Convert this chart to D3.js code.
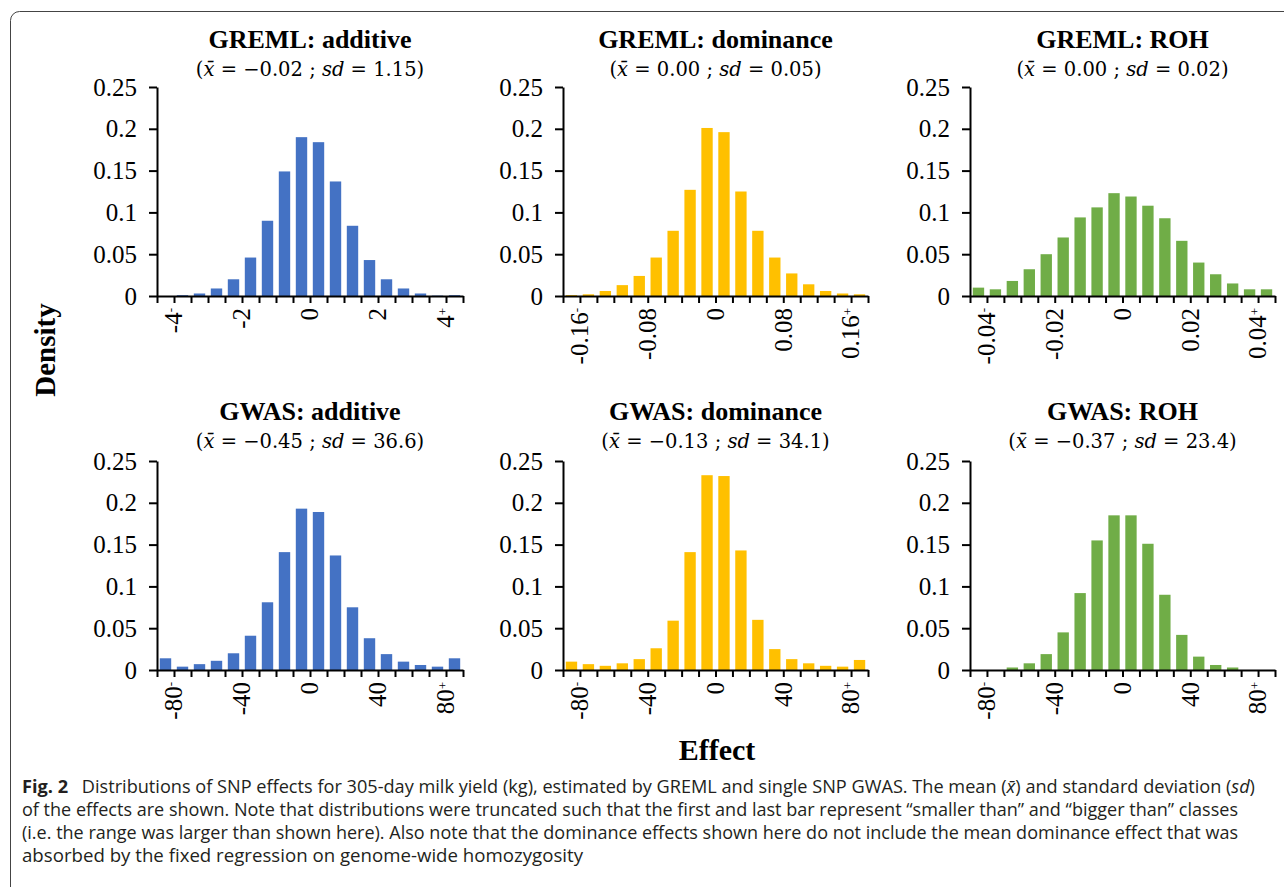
<!DOCTYPE html>
<html>
<head>
<meta charset="utf-8">
<script src="https://cdn.jsdelivr.net/npm/d3@7"></script>
<style>
  html, body { margin: 0; padding: 0; background: #fff; }
  svg { display: block; }
</style>
</head>
<body>
<svg id="chart" width="1284" height="887"></svg>
<script>
// ---------------- DATA ----------------
const panelTitles = ["GREML: additive", "GREML: dominance", "GREML: ROH",
                     "GWAS: additive", "GWAS: dominance", "GWAS: ROH"];
const panelMeans = ["\u22120.02", "0.00", "0.00", "\u22120.45", "\u22120.13", "\u22120.37"];
const panelSds = ["1.15", "0.05", "0.02", "36.6", "34.1", "23.4"];
const panelColors = ["#4472C4", "#FFC000", "#70AD47", "#4472C4", "#FFC000", "#70AD47"];

// bin layout: lower edge of first bin and bin width (18 bins each)
const binStart = [-4.5, -0.18, -0.045, -90, -90, -90];
const binWidth = [0.5, 0.02, 0.005, 10, 10, 10];

// x tick labels (first gets "-" superscript, last gets "+")
const xTickLabels = [
  [-4, -2, 0, 2, 4],
  [-0.16, -0.08, 0, 0.08, 0.16],
  [-0.04, -0.02, 0, 0.02, 0.04],
  [-80, -40, 0, 40, 80],
  [-80, -40, 0, 40, 80],
  [-80, -40, 0, 40, 80]
];
const yTicks = [0, 0.05, 0.1, 0.15, 0.2, 0.25];

const gremlAdditive  = [0.000, 0.001, 0.003, 0.009, 0.020, 0.046, 0.090, 0.149, 0.190, 0.184, 0.137, 0.084, 0.043, 0.020, 0.009, 0.003, 0.0005, 0.001];
const gremlDominance = [0.001, 0.002, 0.006, 0.013, 0.024, 0.046, 0.078, 0.127, 0.201, 0.196, 0.125, 0.078, 0.046, 0.027, 0.014, 0.006, 0.003, 0.002];
const gremlROH       = [0.010, 0.008, 0.018, 0.032, 0.050, 0.070, 0.094, 0.106, 0.123, 0.119, 0.108, 0.093, 0.066, 0.040, 0.026, 0.015, 0.008, 0.008];
const gwasAdditive   = [0.014, 0.004, 0.007, 0.011, 0.020, 0.041, 0.081, 0.141, 0.193, 0.189, 0.137, 0.075, 0.038, 0.019, 0.010, 0.006, 0.004, 0.014];
const gwasDominance  = [0.010, 0.007, 0.005, 0.008, 0.013, 0.026, 0.059, 0.141, 0.233, 0.232, 0.143, 0.060, 0.025, 0.013, 0.008, 0.005, 0.004, 0.012];
const gwasROH        = [0.000, 0.000, 0.003, 0.008, 0.019, 0.045, 0.092, 0.155, 0.185, 0.185, 0.151, 0.090, 0.042, 0.016, 0.006, 0.003, 0.000, 0.000];
const panelValues = [gremlAdditive, gremlDominance, gremlROH, gwasAdditive, gwasDominance, gwasROH];

const yAxisTitle = "Density";
const xAxisTitle = "Effect";
const captionLines = [
  [{t: "Fig. 2", b: true}, {t: "\u2002 Distributions of SNP effects for 305-day milk yield (kg), estimated by GREML and single SNP GWAS. The mean ("}, {t: "x\u0304", i: true}, {t: ") and standard deviation ("}, {t: "sd", i: true}, {t: ")"}],
  [{t: "of the effects are shown. Note that distributions were truncated such that the first and last bar represent \u201csmaller than\u201d and \u201cbigger than\u201d classes"}],
  [{t: "(i.e. the range was larger than shown here). Also note that the dominance effects shown here do not include the mean dominance effect that was"}],
  [{t: "absorbed by the fixed regression on genome-wide homozygosity"}]
];

// ---------------- LAYOUT ----------------
const svg = d3.select("#chart");
const colLeft = [157, 563, 970];
const colRight = [463, 868, 1275];
const rowBottom = [296, 670];
const rowTop = [87, 461];
const serif = "'Liberation Serif', 'Times New Roman', serif";
const mathFont = "'DejaVu Serif', serif";

// frame
svg.append("rect")
  .attr("x", 10.5).attr("y", 11.5)
  .attr("width", 1300).attr("height", 900)
  .attr("rx", 9).attr("ry", 9)
  .attr("fill", "none").attr("stroke", "#444").attr("stroke-width", 1);

panelValues.forEach((vals, p) => {
  const col = p % 3, row = Math.floor(p / 3);
  const left = colLeft[col], right = colRight[col];
  const y0 = rowBottom[row], yTop = rowTop[row];
  const lo = binStart[p], w = binWidth[p];
  const hi = lo + w * vals.length;

  const x = d3.scaleLinear().domain([lo, hi]).range([left, right]);
  const y = d3.scaleLinear().domain([0, 0.25]).range([y0, yTop]);
  const g = svg.append("g");

  // bars
  const barFrac = 0.67;
  g.selectAll("rect.bar").data(vals).join("rect")
    .attr("class", "bar")
    .attr("x", (d, i) => x(lo + i * w) + (x(lo + w) - x(lo)) * (1 - barFrac) / 2)
    .attr("width", (x(lo + w) - x(lo)) * barFrac)
    .attr("y", d => y(d))
    .attr("height", d => y0 - y(d))
    .attr("fill", panelColors[p]);

  // x axis (tick marks at bin edges)
  const edges = d3.range(vals.length + 1).map(i => lo + i * w);
  const xAxis = d3.axisBottom(x).tickValues(edges).tickSize(7).tickSizeOuter(0).tickFormat("");
  const gx = g.append("g").attr("transform", `translate(0,${y0})`).call(xAxis);
  gx.select(".domain").attr("stroke", "#000").attr("stroke-width", 2);
  gx.selectAll(".tick line").attr("stroke", "#000").attr("stroke-width", 2);

  // x labels rotated
  const labs = xTickLabels[p];
  labs.forEach((v, k) => {
    const t = g.append("text")
      .attr("transform", `translate(${x(v)},${y0 + 12}) rotate(-90)`)
      .attr("text-anchor", "end")
      .attr("dy", "0.33em")
      .attr("font-family", serif)
      .attr("font-size", 25)
      .attr("fill", "#000");
    t.append("tspan").text(String(v));
    if (k === 0) t.append("tspan").attr("dy", "-0.55em").attr("font-size", 13).text("-");
    if (k === labs.length - 1) t.append("tspan").attr("dy", "-0.55em").attr("font-size", 13).text("+");
  });

  // y axis
  const yAxis = d3.axisLeft(y).tickValues(yTicks).tickSize(8).tickSizeOuter(0).tickPadding(12)
    .tickFormat(d => String(+d.toFixed(2)));
  const gy = g.append("g").attr("transform", `translate(${left},0)`).call(yAxis);
  gy.select(".domain").attr("stroke", "#000").attr("stroke-width", 2);
  gy.selectAll(".tick line").attr("stroke", "#000").attr("stroke-width", 2);
  gy.selectAll(".tick text").attr("font-family", serif).attr("font-size", 25).attr("fill", "#000");

  // titles
  const cx = (left + right) / 2;
  const titleY = row === 0 ? 48 : 420;
  g.append("text")
    .attr("x", cx).attr("y", titleY)
    .attr("text-anchor", "middle")
    .attr("font-family", serif).attr("font-weight", "bold").attr("font-size", 26)
    .text(panelTitles[p]);
  const st = g.append("text")
    .attr("x", cx).attr("y", titleY + 28)
    .attr("text-anchor", "middle")
    .attr("font-family", mathFont).attr("font-size", 19.5)
    .attr("xml:space", "preserve");
  st.append("tspan").text("(");
  st.append("tspan").attr("font-style", "italic").text("x\u0304");
  st.append("tspan").text(" = " + panelMeans[p] + " ; ");
  st.append("tspan").attr("font-style", "italic").text("sd");
  st.append("tspan").text(" = " + panelSds[p] + ")");
});

// axis titles
svg.append("text")
  .attr("transform", "translate(55,350) rotate(-90)")
  .attr("text-anchor", "middle")
  .attr("font-family", serif).attr("font-weight", "bold").attr("font-size", 29)
  .text(yAxisTitle);
svg.append("text")
  .attr("x", 717).attr("y", 760)
  .attr("text-anchor", "middle")
  .attr("font-family", serif).attr("font-weight", "bold").attr("font-size", 30)
  .text(xAxisTitle);

// caption
const capWidths = [1233, 1216, 1216, 561];
captionLines.forEach((parts, li) => {
  const t = svg.append("text")
    .attr("x", 22).attr("y", 793 + li * 23)
    .attr("font-family", "'Open Sans', 'Liberation Sans', sans-serif")
    .attr("font-size", 17.5)
    .attr("fill", "#231f20")
    .attr("textLength", capWidths[li])
    .attr("lengthAdjust", "spacingAndGlyphs");
  parts.forEach(pt => {
    const s = t.append("tspan").text(pt.t);
    if (pt.b) s.attr("font-weight", "bold");
    if (pt.i) s.attr("font-style", "italic");
  });
});
</script>
</body>
</html>
